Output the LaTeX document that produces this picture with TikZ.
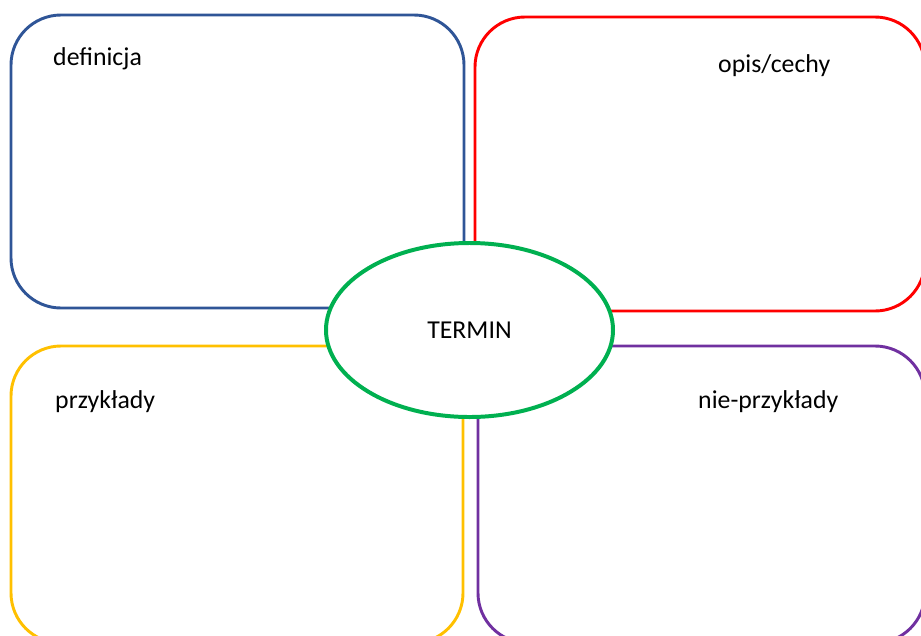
\documentclass[tikz,border=0pt]{standalone}
\usepackage{fontspec}
\setmainfont{Carlito}
\usetikzlibrary{shapes.geometric}

\definecolor{boxblue}{HTML}{2F5597}
\definecolor{boxred}{HTML}{FF0000}
\definecolor{boxyellow}{HTML}{FFC000}
\definecolor{boxpurple}{HTML}{7030A0}
\definecolor{termgreen}{HTML}{00B050}

\tikzset{
  card/.style={line width=2.5pt, rounded corners=1.5cm},
  label/.style={anchor=base west, inner sep=0pt, font=\fontsize{22}{26}\selectfont}
}

\begin{document}
\begin{tikzpicture}[x=0.03cm, y=-0.03cm]

\useasboundingbox (0,0) rectangle (921,635);
\clip (0,0) rectangle (921,635);

% the four fields
\draw[card, boxblue] (11,15) rectangle (464,308);
\draw[card, boxred] (475,17) rectangle (925,311);
\draw[card, boxyellow] (11,346) rectangle (463,643);
\draw[card, boxpurple] (478,346) rectangle (925,643);

\node[label] (definicja) at (53,65) {definicja};
\node[label] (opis) at (718,72) {opis/cechy};
\node[label] (przyklady) at (55,408) {przykłady};
\node[label] (nieprzyklady) at (698,408) {nie-przykłady};

% middle
\node[ellipse, draw=termgreen, line width=3.4pt, fill=white, inner sep=0pt, outer sep=0pt,
      minimum width=8.61cm, minimum height=5.22cm,
      font=\fontsize{22}{26}\selectfont] (termin) at (469.5,330) {TERMIN};

\end{tikzpicture}
\end{document}
